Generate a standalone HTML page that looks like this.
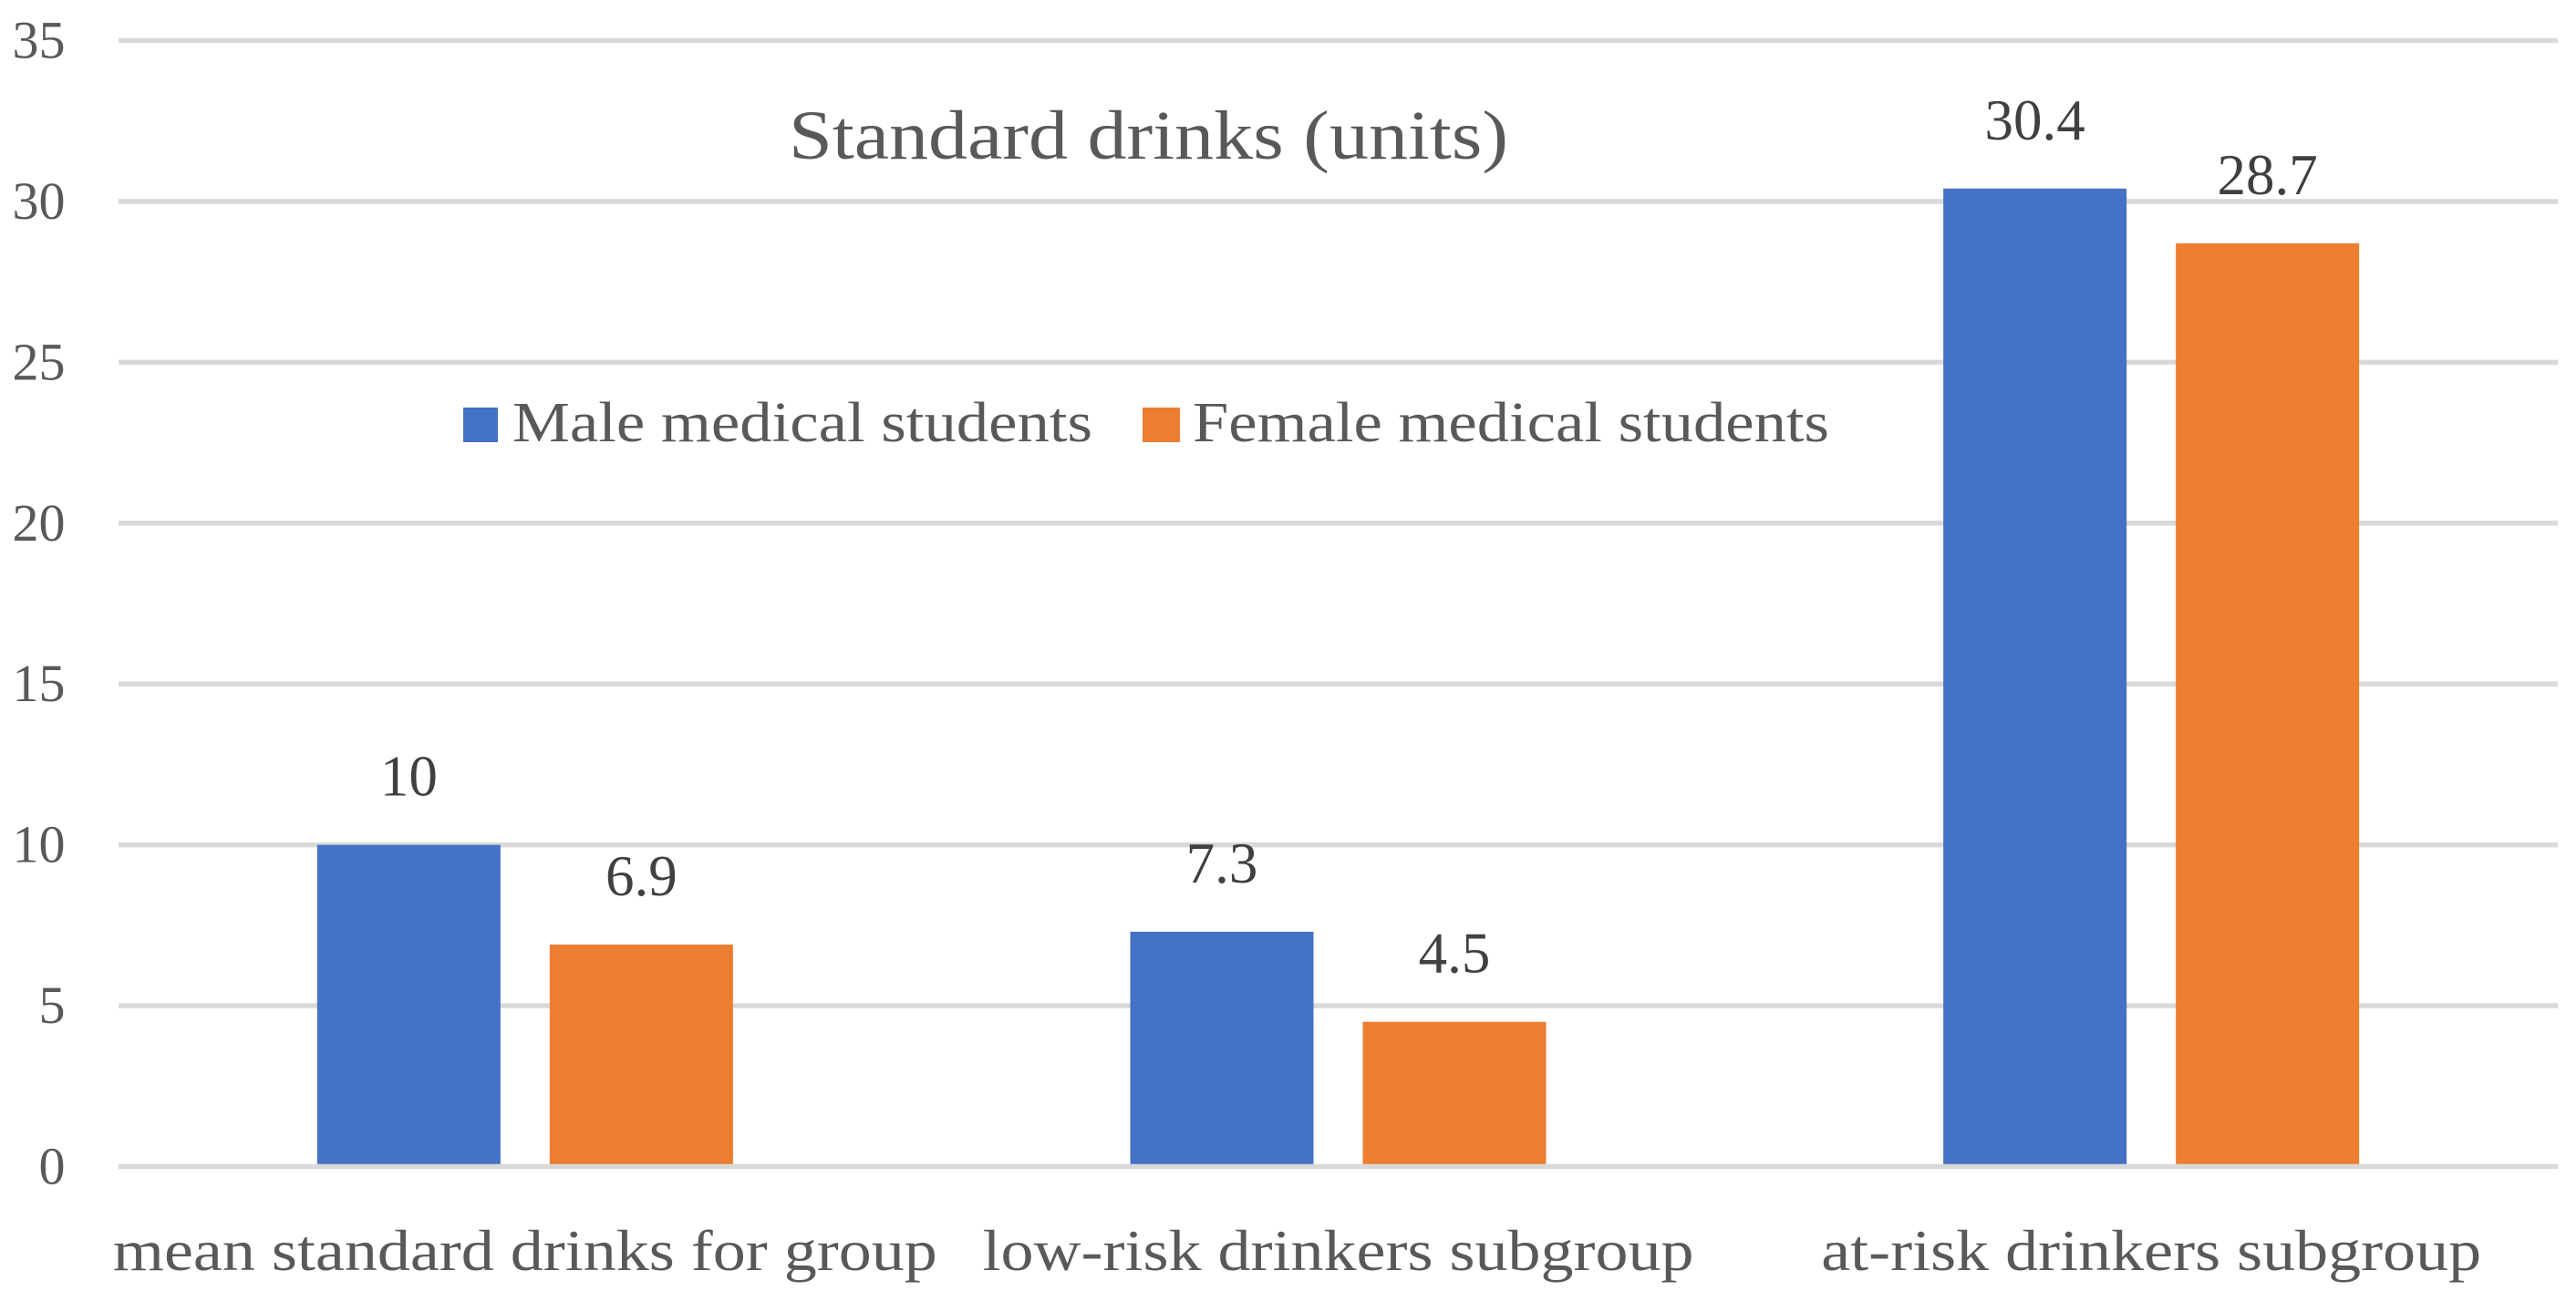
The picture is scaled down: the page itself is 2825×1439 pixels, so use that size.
<!DOCTYPE html>
<html lang="en">
<head>
<meta charset="utf-8">
<title>Standard drinks (units)</title>
<style>
html,body{margin:0;padding:0;background:#fff;width:2825px;height:1439px;overflow:hidden}
svg{display:block}
text{font-family:"Liberation Serif",serif}
</style>
</head>
<body>
<svg id="chart" xmlns="http://www.w3.org/2000/svg" width="2825" height="1439" viewBox="0 0 2825 1439">
  <rect x="0" y="0" width="2825" height="1439" fill="#ffffff"/>
  <g id="grid"></g>
  <g id="yaxis"></g>
  <g id="bars"></g>
  <g id="baseline"></g>
  <g id="labels"></g>
  <g id="xaxis"></g>
  <text x="865" y="174" font-size="76" fill="#595959" textLength="789" lengthAdjust="spacingAndGlyphs">Standard drinks (units)</text>
  <g>
    <g>
      <rect x="508" y="447" width="38" height="38" fill="#4472c4"/>
      <text x="562" y="484" font-size="62" fill="#595959" textLength="636" lengthAdjust="spacingAndGlyphs">Male medical students</text>
    </g>
    <g>
      <rect x="1253" y="447" width="41" height="38" fill="#ed7d31"/>
      <text x="1308" y="484" font-size="62" fill="#595959" textLength="698" lengthAdjust="spacingAndGlyphs">Female medical students</text>
    </g>
  </g>
</svg>
<script>
const categories = ["mean standard drinks for group", "low-risk drinkers subgroup", "at-risk drinkers subgroup"];
const maleValues = [10, 7.3, 30.4];
const femaleValues = [6.9, 4.5, 28.7];
const yTicks = [0, 5, 10, 15, 20, 25, 30, 35];

const SVG_NS = "http://www.w3.org/2000/svg";
const plotLeft = 130, plotRight = 2805, yZero = 1279.5, yTop = 44.5, yMax = 35;
const gridWidth = 5.5, barWidth = 201, barGap = 54;
const catStretch = 1.125;

function yScale(v) { return yZero - (v / yMax) * (yZero - yTop); }
function bandCenter(i) { return plotLeft + (plotRight - plotLeft) * (i + 0.5) / categories.length; }

function make(tag, attrs, parent, content) {
  const el = document.createElementNS(SVG_NS, tag);
  for (const k in attrs) el.setAttribute(k, attrs[k]);
  if (content !== undefined) el.textContent = content;
  parent.appendChild(el);
  return el;
}

const gridG = document.getElementById("grid");
const yG = document.getElementById("yaxis");
yTicks.forEach(function (t) {
  const line = make("rect", { x: plotLeft, y: yScale(t) - gridWidth / 2, width: plotRight - plotLeft, height: gridWidth, fill: "#d9d9d9" }, t === 0 ? document.getElementById("baseline") : gridG);
  
  
  const label = make("text", { x: 71.5, y: yScale(t) + 19, "text-anchor": "end", "font-size": 58, fill: "#595959" }, yG, String(t));
  
  
});

const barsG = document.getElementById("bars");
const labelsG = document.getElementById("labels");
function drawSeries(values, seriesName, color, side) {
  values.forEach(function (v, i) {
    const x = side < 0 ? bandCenter(i) - barGap / 2 - barWidth : bandCenter(i) + barGap / 2;
    const y = yScale(v);
    const bar = make("rect", { x: x, y: y, width: barWidth, height: yZero - y, fill: color }, barsG);
    
    
    const val = make("text", { x: x + barWidth / 2, y: y - 54, "text-anchor": "middle", "font-size": 63, fill: "#404040" }, labelsG, String(v));
    
    
  });
}
drawSeries(maleValues, "male", "#4472c4", -1);
drawSeries(femaleValues, "female", "#ed7d31", 1);

const xG = document.getElementById("xaxis");
categories.forEach(function (c, i) {
  const label = make("text", { x: bandCenter(i), y: 1393, "text-anchor": "middle", "font-size": 64, fill: "#595959", lengthAdjust: "spacingAndGlyphs" }, xG, c);
  
  
  label.setAttribute("textLength", label.getComputedTextLength() * catStretch);
});
</script>
</body>
</html>
